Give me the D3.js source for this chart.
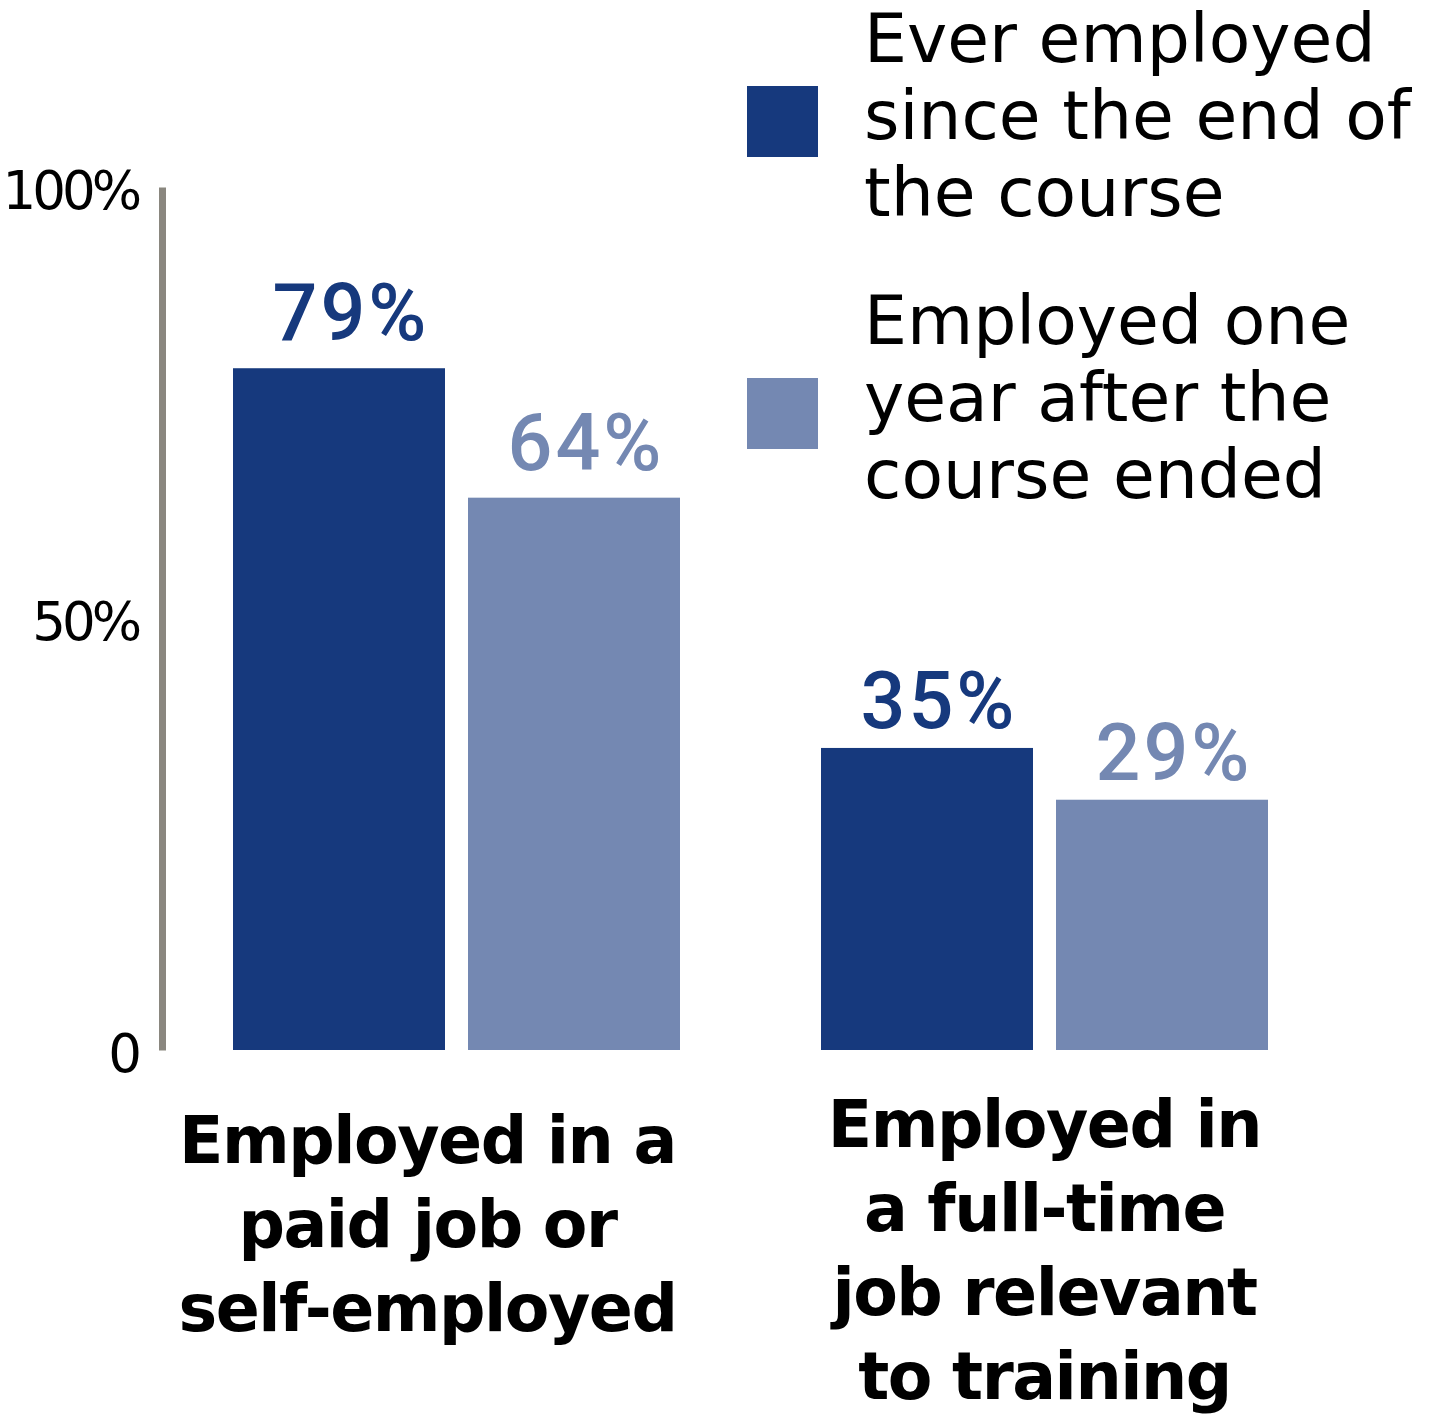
<!DOCTYPE html>
<html>
<head>
<meta charset="utf-8">
<script src="https://cdn.jsdelivr.net/npm/d3@7"></script>
<style>
  html, body { margin: 0; padding: 0; background: #ffffff; }
  svg { display: block; }
</style>
</head>
<body>
<div id="chart"></div>
<script>
// ---------- data ----------
const categories = ["Employed in a paid job or self-employed", "Employed in a full-time job relevant to training"];
const categoryLines = [
  ["Employed in a", "paid job or", "self-employed"],
  ["Employed in", "a full-time", "job relevant", "to training"]
];
const seriesNames = ["Ever employed since the end of the course", "Employed one year after the course ended"];
const seriesLines = [
  ["Ever employed", "since the end of", "the course"],
  ["Employed one", "year after the", "course ended"]
];
const everEmployed = [79, 35];
const employedOneYear = [64, 29];
const seriesValues = [everEmployed, employedOneYear];
const yTicks = [0, 50, 100];
const yTickLabels = ["0", "50%", "100%"];

// ---------- layout / style ----------
const W = 1432, H = 1419;
const colors = ["#16397d", "#7488b2"];
const axisColor = "#8a877f";
const layout = {
  plotLeft: 233, plotRight: 1268, plotTop: 187, plotBottom: 1050,
  axisX: 162,
  groupPadding: 141 / 588,
  barPadding: 23 / 235,
  valueGap: [28, 20],
  valueDx: 12,
  catDx: [-29, 0],
  catFirstBaseline: [1163, 1147],
  catLineHeight: 84,
  legendX: 747, legendSize: 71, legendTextX: 864,
  legendSquareTop: [86, 378],
  legendFirstBaseline: [62, 344],
  legendLineHeight: 77
};

const svg = d3.select("#chart").append("svg")
  .attr("width", W).attr("height", H);

const y = d3.scaleLinear().domain([0, 100]).range([layout.plotBottom, layout.plotTop]);
const x0 = d3.scaleBand().domain(d3.range(categories.length))
  .range([layout.plotLeft, layout.plotRight])
  .paddingInner(layout.groupPadding).paddingOuter(0);
const x1 = d3.scaleBand().domain(d3.range(seriesNames.length))
  .range([0, x0.bandwidth()])
  .paddingInner(layout.barPadding).paddingOuter(0);

// ---------- axis ----------
const axis = d3.axisLeft(y)
  .tickValues(yTicks)
  .tickSize(0)
  .tickSizeOuter(0)
  .tickPadding(24)
  .tickFormat((d, i) => yTickLabels[i]);

const gAxis = svg.append("g")
  .attr("transform", `translate(${layout.axisX},0)`)
  .call(axis);
gAxis.select(".domain")
  .attr("stroke", axisColor)
  .attr("stroke-width", 7);
gAxis.selectAll(".tick text")
  .attr("dy", "0.4em")
  .attr("fill", "#000")
  .style("font-family", "'DejaVu Sans', sans-serif")
  .style("font-size", "53px")
  .style("letter-spacing", "-4px");

// ---------- bars ----------
const rows = [];
categories.forEach((c, ci) => {
  seriesValues.forEach((vals, si) => rows.push({ ci, si, v: vals[ci] }));
});

const gBars = svg.append("g");
gBars.selectAll("rect").data(rows).join("rect")
  .attr("x", d => x0(d.ci) + x1(d.si))
  .attr("y", d => y(d.v))
  .attr("width", x1.bandwidth())
  .attr("height", d => y(0) - y(d.v))
  .attr("fill", d => colors[d.si]);

gBars.selectAll("text.value").data(rows).join("text")
  .attr("class", "value")
  .attr("x", d => x0(d.ci) + x1(d.si) + x1.bandwidth() / 2 + layout.valueDx)
  .attr("y", d => y(d.v) - layout.valueGap[d.ci])
  .attr("text-anchor", "middle")
  .attr("fill", d => colors[d.si])
  .style("font-family", "Roboto, sans-serif")
  .style("font-weight", 500)
  .style("font-size", "79px")
  .style("letter-spacing", "3px")
  .text(d => d.v + "%");

// ---------- category labels ----------
const gCats = svg.append("g");
categories.forEach((c, ci) => {
  const t = gCats.append("text")
    .attr("text-anchor", "middle")
    .attr("fill", "#000")
    .style("font-family", "'DejaVu Sans', sans-serif")
    .style("font-weight", 700)
    .style("font-size", "65px")
    .style("letter-spacing", "-1.5px");
  categoryLines[ci].forEach((line, li) => {
    t.append("tspan")
      .attr("x", x0(ci) + x0.bandwidth() / 2 + layout.catDx[ci])
      .attr("y", layout.catFirstBaseline[ci] + li * layout.catLineHeight)
      .text(line);
  });
});

// ---------- legend ----------
const gLeg = svg.append("g");
seriesNames.forEach((s, si) => {
  gLeg.append("rect")
    .attr("x", layout.legendX)
    .attr("y", layout.legendSquareTop[si])
    .attr("width", layout.legendSize)
    .attr("height", layout.legendSize)
    .attr("fill", colors[si]);
  const t = gLeg.append("text")
    .attr("fill", "#000")
    .style("font-family", "'DejaVu Sans', sans-serif")
    .style("font-size", "68px");
  seriesLines[si].forEach((line, li) => {
    t.append("tspan")
      .attr("x", layout.legendTextX)
      .attr("y", layout.legendFirstBaseline[si] + li * layout.legendLineHeight)
      .text(line);
  });
});
</script>
</body>
</html>
